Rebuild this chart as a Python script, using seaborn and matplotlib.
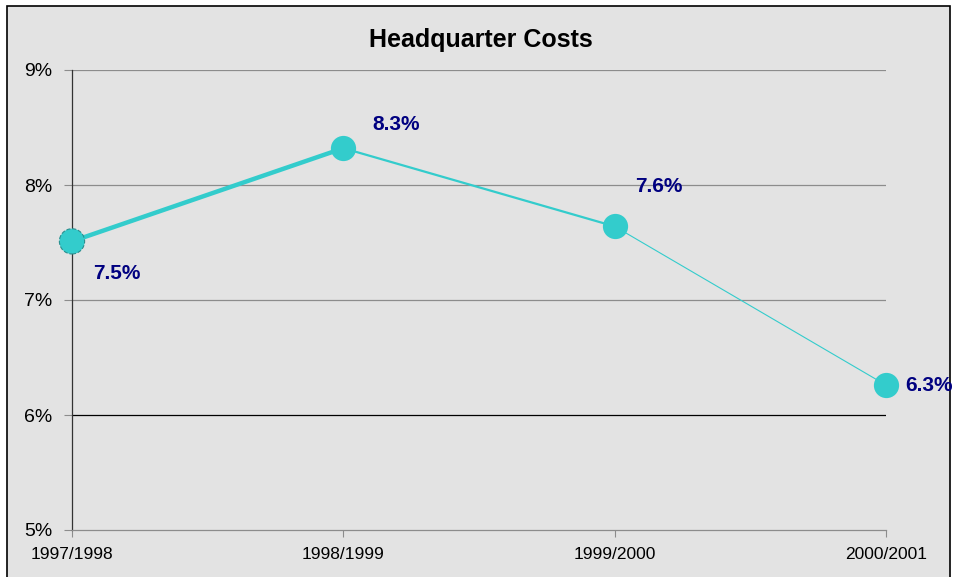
import matplotlib
matplotlib.use("Agg")
import matplotlib.pyplot as plt
import matplotlib.patches as mpatches
import pandas as pd
import seaborn as sns

years = ["1997/1998", "1998/1999", "1999/2000", "2000/2001"]
cost_share = [7.51, 8.32, 7.64, 6.26]
y_ticks = [5, 6, 7, 8, 9]

df = pd.DataFrame({"pos": range(len(years)), "year": years, "cost": cost_share})

sns.set_theme(style="white")
plt.rcParams["font.family"] = ["Liberation Sans", "DejaVu Sans"]

bg = "#e3e3e3"
teal = "#33cccc"
navy = "#000080"

fig = plt.figure(figsize=(9.57, 5.77), dpi=100)
fig.patch.set_facecolor("white")
fig.patches.append(mpatches.Rectangle((7 / 957, -0.01), (950 - 7) / 957, 1 - 6 / 577 + 0.01,
                                      transform=fig.transFigure, facecolor=bg,
                                      edgecolor="black", linewidth=1.2, zorder=-10))
ax = fig.add_axes([72 / 957, 1 - 530 / 577, (886 - 72) / 957, (530 - 70) / 577])
ax.set_facecolor(bg)
ax.patch.set_alpha(0)

# segments get thinner from year to year
widths = [3.2, 1.6, 0.8]
for i, w in enumerate(widths):
    seg = df.iloc[i:i + 2]
    sns.lineplot(data=seg, x="pos", y="cost", ax=ax, color=teal, linewidth=w,
                 solid_capstyle="round", zorder=3)

sns.scatterplot(data=df.iloc[1:], x="pos", y="cost", ax=ax, color=teal, s=330,
                edgecolor=teal, linewidth=0, zorder=4, clip_on=False)
sns.scatterplot(data=df.iloc[:1], x="pos", y="cost", ax=ax, color=teal, s=330,
                edgecolor="#2a8f8f", linewidth=0.8, linestyle="--", zorder=4,
                clip_on=False)

offsets = [(32, -23), (38, 17), (32, 29), (31, 0)]
for p, v, off in zip(df["pos"], df["cost"], offsets):
    ax.annotate(f"{v:.1f}%", (p, v), xytext=off, textcoords="offset points",
                ha="center", va="center", fontsize=15, fontweight="bold",
                color=navy, zorder=5, annotation_clip=False)

ax.set_xlim(0, 3)
ax.set_ylim(5, 9)
ax.set_xticks(df["pos"])
ax.set_xticklabels(years)
ax.set_yticks(y_ticks)
ax.set_yticklabels([f"{t}%" for t in y_ticks])
ax.set_xlabel("")
ax.set_ylabel("")

for t in y_ticks[1:]:
    ax.axhline(t, color="black" if t == 6 else "#8c8c8c", linewidth=0.9, zorder=1)

for side in ["top", "right"]:
    ax.spines[side].set_visible(False)
ax.spines["left"].set_color("#333333")
ax.spines["left"].set_linewidth(0.9)
ax.spines["bottom"].set_color("#8c8c8c")
ax.spines["bottom"].set_linewidth(0.9)

ax.tick_params(axis="y", which="major", left=True, length=6, width=0.8,
               color="#8c8c8c", pad=8, labelsize=14, labelcolor="black")
ax.tick_params(axis="x", which="major", bottom=True, length=5, width=0.8,
               color="#8c8c8c", pad=7, labelsize=12.5, labelcolor="black")

fig.text(481 / 957, 1 - 40 / 577, "Headquarter Costs", ha="center", va="center",
         fontsize=18, fontweight="bold", color="black")

fig.savefig("out.png", dpi=100, facecolor=fig.get_facecolor())
